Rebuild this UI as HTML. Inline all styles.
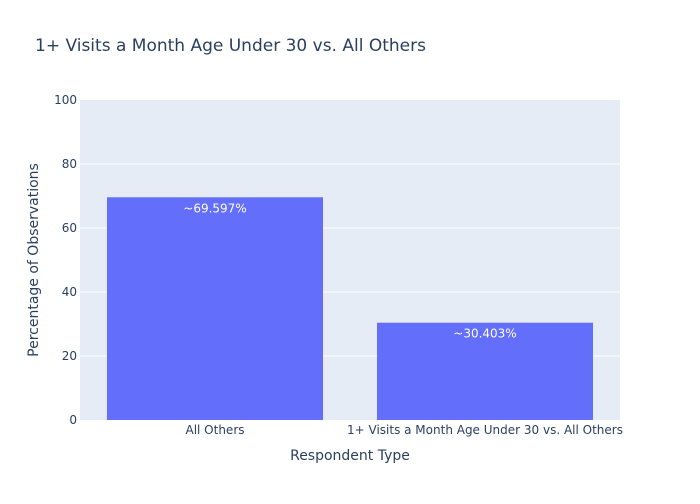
<!DOCTYPE html>
<html><head><meta charset="utf-8"><style>
body{margin:0;background:#fff;font-family:"DejaVu Sans",sans-serif}
svg text{font-family:"DejaVu Sans",sans-serif;fill:#2a3f5f}
</style></head><body>
<svg id="chart" width="700" height="500">
<rect width="700" height="500" fill="#fff"/>
<text x="35" y="51" font-size="17">1+ Visits a Month Age Under 30 vs. All Others</text>
<rect x="80" y="100" width="540" height="320" fill="#e5ecf6"/>
<g id="grid"></g><g id="bars"></g><g id="ticks"></g>
<text x="350" y="460" font-size="14" text-anchor="middle">Respondent Type</text>
<text transform="translate(38,260) rotate(-90)" font-size="14" text-anchor="middle">Percentage of Observations</text>
</svg>
<script>
const categories = ["All Others", "1+ Visits a Month Age Under 30 vs. All Others"];
const values = [69.597, 30.403];
const labels = ["~69.597%", "~30.403%"];
const yTicks = [0, 20, 40, 60, 80, 100];
const NS = "http://www.w3.org/2000/svg";
const x0 = 80, w = 540, y0 = 420, h = 320, yMax = 100;
const y = v => y0 - v / yMax * h;
const band = w / categories.length;
const xc = i => x0 + band * (i + 0.5);
function mk(tag, attrs, parent) { const e = document.createElementNS(NS, tag); for (const k in attrs) e.setAttribute(k, attrs[k]); parent.appendChild(e); return e; }
const grid = document.getElementById('grid'), bars = document.getElementById('bars'), ticks = document.getElementById('ticks');
yTicks.forEach(t => {
  if (t > 0 && t < yMax) {
    const l = mk('line', {x1: x0, x2: x0 + w, y1: y(t), y2: y(t), stroke: '#fff', 'stroke-width': 1}, grid);
    
    
  }
  const tx = mk('text', {x: x0 - 3, y: y(t) + 4, 'font-size': 12, 'text-anchor': 'end'}, ticks);
  tx.textContent = t;
  
  
});
categories.forEach((c, i) => {
  const bw = band * 0.8;
  const r = mk('rect', {x: xc(i) - bw / 2, y: y(values[i]), width: bw, height: y0 - y(values[i]), fill: '#636efa'}, bars);
  
  
  const lt = mk('text', {x: xc(i), y: y(values[i]) + 15, 'font-size': 12, 'text-anchor': 'middle', style: 'fill:#fff'}, bars);
  lt.textContent = labels[i];
  
  
  const xt = mk('text', {x: xc(i), y: y0 + 14, 'font-size': 12, 'text-anchor': 'middle'}, ticks);
  xt.textContent = c;
  
  
});
</script>
</body></html>
